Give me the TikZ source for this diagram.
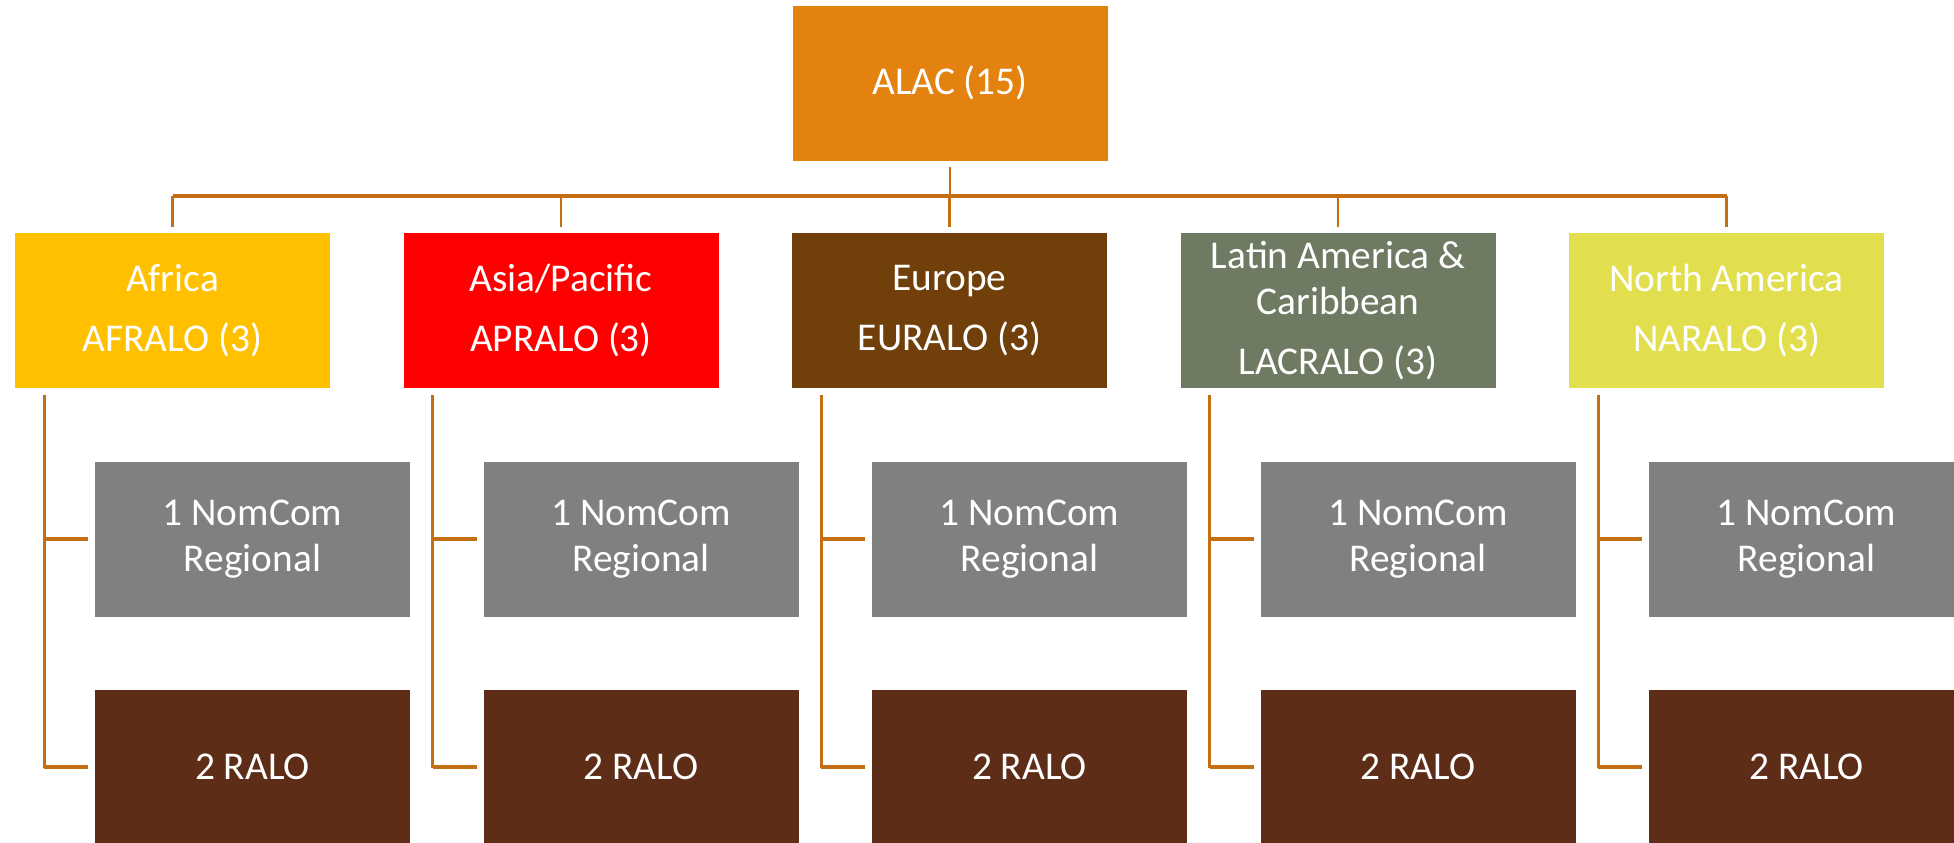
\documentclass[tikz,border=0pt]{standalone}
\usepackage{fontspec}
\setmainfont{Carlito}

\definecolor{alacorange}{HTML}{E4820F}
\definecolor{afrgold}{HTML}{FFC000}
\definecolor{aprred}{HTML}{FF0000}
\definecolor{eurbrown}{HTML}{71400A}
\definecolor{lacgreen}{HTML}{6F7A62}
\definecolor{naryellow}{HTML}{E2DF4F}
\definecolor{nomgray}{HTML}{808080}
\definecolor{ralobrown}{HTML}{5E2D18}
\definecolor{wire}{HTML}{C46F14}

\tikzstyle{unit}=[rectangle, minimum width=3.15cm, minimum height=1.55cm, inner sep=0pt, text=white, align=center, font=\fontsize{11.2}{13.1}\selectfont]
\tikzstyle{bus}=[draw=wire, line width=1.1pt]
\tikzstyle{link}=[draw=wire, line width=0.75pt]
\tikzstyle{tick}=[draw=wire, line width=1.1pt]

\begin{document}
\begin{tikzpicture}
    \useasboundingbox (0,0) rectangle (19.54,-8.42);
    \clip (0,0) rectangle (19.54,-8.42);
    \node[unit, fill=alacorange] (alac) at (9.50,-0.83) {ALAC (15)};
    \node[unit, fill=afrgold] (afr) at (1.725,-3.105) {Africa\\[3.9pt]AFRALO (3)};
    \node[unit, fill=aprred] (apr) at (5.61,-3.105) {Asia/Pacific\\[3.9pt]APRALO (3)};
    \node[unit, fill=eurbrown] (eur) at (9.495,-3.105) {Europe\\[3.9pt]EURALO (3)};
    \node[unit, fill=lacgreen] (lac) at (13.38,-3.105) {Latin America \&\\Caribbean\\[3.9pt]LACRALO (3)};
    \node[unit, fill=naryellow] (nar) at (17.265,-3.105) {North America\\[3.9pt]NARALO (3)};
    \node[unit, fill=nomgray] (afrnom) at (2.525,-5.39) {1 NomCom\\Regional};
    \node[unit, fill=nomgray] (aprnom) at (6.41,-5.39) {1 NomCom\\Regional};
    \node[unit, fill=nomgray] (eurnom) at (10.295,-5.39) {1 NomCom\\Regional};
    \node[unit, fill=nomgray] (lacnom) at (14.18,-5.39) {1 NomCom\\Regional};
    \node[unit, fill=nomgray] (narnom) at (18.065,-5.39) {1 NomCom\\Regional};
    \node[unit, fill=ralobrown] (afrralo) at (2.525,-7.67) {2 RALO};
    \node[unit, fill=ralobrown] (aprralo) at (6.41,-7.67) {2 RALO};
    \node[unit, fill=ralobrown] (eurralo) at (10.295,-7.67) {2 RALO};
    \node[unit, fill=ralobrown] (lacralo) at (14.18,-7.67) {2 RALO};
    \node[unit, fill=ralobrown] (narralo) at (18.065,-7.67) {2 RALO};
    % ALAC to the regions
    \coordinate (hub) at (9.50,-1.96);
    \draw[link] ([yshift=-.06cm]alac.south) -- (hub);
    \draw[bus] (afr.north |- hub) -- (nar.north |- hub);
    \draw[link] (afr.north |- hub) -- ([yshift=.05cm]afr.north);
    \draw[link] (apr.north |- hub) -- ([yshift=.05cm]apr.north);
    \draw[link] (eur.north |- hub) -- ([yshift=.05cm]eur.north);
    \draw[link] (lac.north |- hub) -- ([yshift=.05cm]lac.north);
    \draw[link] (nar.north |- hub) -- ([yshift=.05cm]nar.north);
    % regions to their seats
    \draw[link] ([xshift=.3cm,yshift=-.06cm]afr.south west) |- ([xshift=-.06cm]afrralo.west);
    \draw[link] ([xshift=.3cm,yshift=-.06cm]apr.south west) |- ([xshift=-.06cm]aprralo.west);
    \draw[link] ([xshift=.3cm,yshift=-.06cm]eur.south west) |- ([xshift=-.06cm]eurralo.west);
    \draw[link] ([xshift=.3cm,yshift=-.06cm]lac.south west) |- ([xshift=-.06cm]lacralo.west);
    \draw[link] ([xshift=.3cm,yshift=-.06cm]nar.south west) |- ([xshift=-.06cm]narralo.west);
    \draw[tick] ([xshift=.3cm]afr.south west |- afrnom.west) -- ([xshift=-.06cm]afrnom.west);
    \draw[tick] ([xshift=.3cm]apr.south west |- aprnom.west) -- ([xshift=-.06cm]aprnom.west);
    \draw[tick] ([xshift=.3cm]eur.south west |- eurnom.west) -- ([xshift=-.06cm]eurnom.west);
    \draw[tick] ([xshift=.3cm]lac.south west |- lacnom.west) -- ([xshift=-.06cm]lacnom.west);
    \draw[tick] ([xshift=.3cm]nar.south west |- narnom.west) -- ([xshift=-.06cm]narnom.west);
    \draw[tick] ([xshift=.3cm]afr.south west |- afrralo.west) -- ([xshift=-.06cm]afrralo.west);
    \draw[tick] ([xshift=.3cm]apr.south west |- aprralo.west) -- ([xshift=-.06cm]aprralo.west);
    \draw[tick] ([xshift=.3cm]eur.south west |- eurralo.west) -- ([xshift=-.06cm]eurralo.west);
    \draw[tick] ([xshift=.3cm]lac.south west |- lacralo.west) -- ([xshift=-.06cm]lacralo.west);
    \draw[tick] ([xshift=.3cm]nar.south west |- narralo.west) -- ([xshift=-.06cm]narralo.west);
\end{tikzpicture}
\end{document}
